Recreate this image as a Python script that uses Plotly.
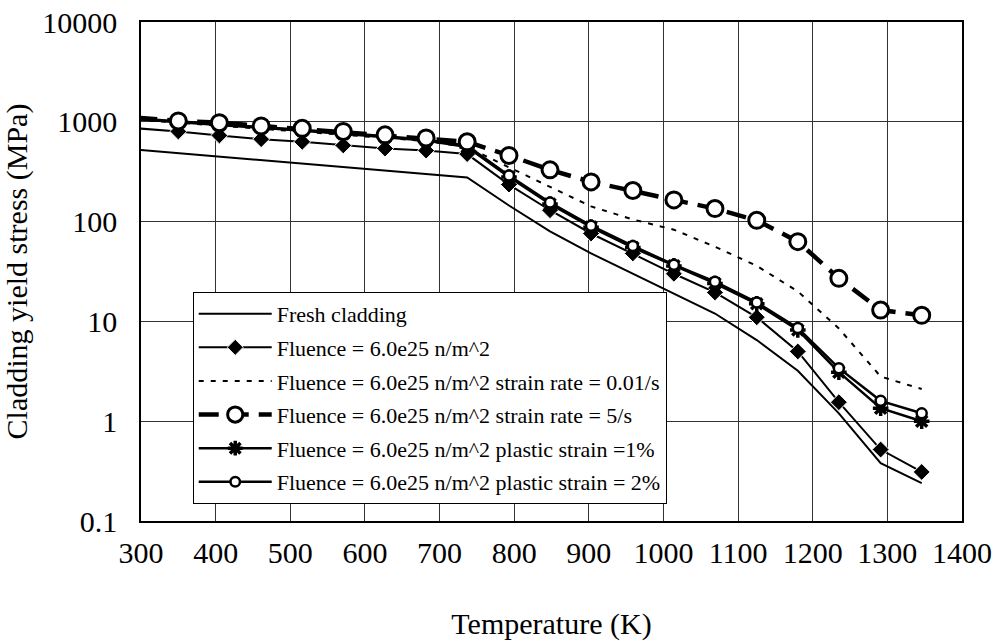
import plotly.graph_objects as go

temperature = [295, 350, 405, 461, 516, 571, 627, 682, 737, 793, 848, 903, 959, 1014, 1069, 1125, 1180, 1235, 1291, 1346]

fresh = [525, 485, 450, 415, 385, 355, 325, 300, 277, 145, 80, 48, 30, 19, 12, 6.5, 3.2, 1.2, 0.38, 0.24]
fluence = [860, 800, 730, 670, 630, 580, 540, 515, 475, 235, 130, 76, 48, 30, 19.5, 11, 5, 1.55, 0.52, 0.31]
rate_001 = [1050, 980, 920, 860, 800, 740, 690, 640, 560, 350, 225, 142, 105, 83, 56, 36, 20, 8.5, 2.8, 2.1]
rate_5 = [1100, 1020, 980, 910, 860, 800, 740, 690, 630, 460, 330, 250, 205, 165, 135, 103, 63, 27, 13, 11.5]
strain_1 = [1060, 1000, 930, 870, 820, 760, 700, 650, 560, 280, 150, 88, 55, 36, 24, 15, 8.2, 3.1, 1.35, 1.0]
strain_2 = [1080, 1010, 950, 890, 835, 775, 715, 660, 575, 290, 155, 91, 57, 37, 25, 15.5, 8.6, 3.4, 1.6, 1.2]

names = [
    "Fresh cladding",
    "Fluence = 6.0e25 n/m^2",
    "Fluence = 6.0e25 n/m^2 strain rate = 0.01/s",
    "Fluence = 6.0e25 n/m^2 strain rate = 5/s",
    "Fluence = 6.0e25 n/m^2 plastic strain =1%",
    "Fluence = 6.0e25 n/m^2 plastic strain = 2%",
]

y_ticks = [0.1, 1, 10, 100, 1000, 10000]
y_ticktext = ["0.1", "1", "10", "100", "1000", "10000"]
x_ticks = list(range(300, 1401, 100))

FONT = "Liberation Serif, Times New Roman, serif"
n = len(temperature)


def sizes(s):
    return [0] + [s] * (n - 1)


fig = go.Figure()
fig.add_trace(go.Scatter(x=temperature, y=fresh, name=names[0], mode="lines",
                         line=dict(color="black", width=2), legendgroup="a", legendrank=1))
fig.add_trace(go.Scatter(x=temperature, y=fluence, name=names[1], mode="lines+markers",
                         line=dict(color="black", width=2),
                         marker=dict(symbol="diamond", size=sizes(13), color="black", opacity=1),
                         legendgroup="b", legendrank=2))
fig.add_trace(go.Scatter(x=temperature, y=rate_001, name=names[2], mode="lines",
                         line=dict(color="black", width=2, dash="5px,7px"),
                         legendgroup="c", legendrank=3))
fig.add_trace(go.Scatter(x=temperature, y=strain_1, name=names[4], mode="lines+markers",
                         line=dict(color="black", width=2.5),
                         marker=dict(symbol="asterisk-open", size=sizes(13), opacity=1,
                                     line=dict(color="black", width=3.5)),
                         legendgroup="e", legendrank=5))
fig.add_trace(go.Scatter(x=temperature, y=strain_2, name=names[5], mode="lines+markers",
                         line=dict(color="black", width=2.5),
                         marker=dict(symbol="circle", size=sizes(10), color="white", opacity=1,
                                     line=dict(color="black", width=2.5)),
                         legendgroup="f", legendrank=6))
fig.add_trace(go.Scatter(x=temperature, y=rate_5, name=names[3], mode="lines+markers",
                         line=dict(color="black", width=4.5, dash="20px,10px"),
                         marker=dict(symbol="circle", size=sizes(16), color="white", opacity=1,
                                     line=dict(color="black", width=3)),
                         legendgroup="d", legendrank=4))

fig.update_layout(
    width=998, height=641,
    margin=dict(l=141, r=36, t=22, b=120),
    paper_bgcolor="white", plot_bgcolor="white",
    font=dict(family=FONT, color="black"),
    showlegend=True,
    legend=dict(x=0.063, y=0.459, xanchor="left", yanchor="top",
                bgcolor="white", bordercolor="black", borderwidth=1,
                font=dict(family=FONT, size=22, color="black"),
                tracegroupgap=2, traceorder="grouped", itemwidth=73),
)
fig.update_xaxes(
    range=[300, 1400], tickvals=x_ticks, ticks="", automargin=False,
    showgrid=True, gridcolor="#333", gridwidth=1,
    showline=True, linecolor="black", linewidth=1.5, mirror=True,
    tickfont=dict(family=FONT, size=30), ticklabelstandoff=4,
    title=dict(text="Temperature (K)", font=dict(family=FONT, size=30), standoff=46),
    zeroline=False,
)
fig.update_yaxes(
    type="log", range=[-1, 4], tickvals=y_ticks, ticktext=y_ticktext, ticks="", automargin=False,
    showgrid=True, gridcolor="#333", gridwidth=1,
    showline=True, linecolor="black", linewidth=1.5, mirror=True,
    tickfont=dict(family=FONT, size=30), ticklabelstandoff=16,
    title=dict(text="Cladding yield stress (MPa)", font=dict(family=FONT, size=30), standoff=6),
    zeroline=False,
)

fig.write_html("out.html")
